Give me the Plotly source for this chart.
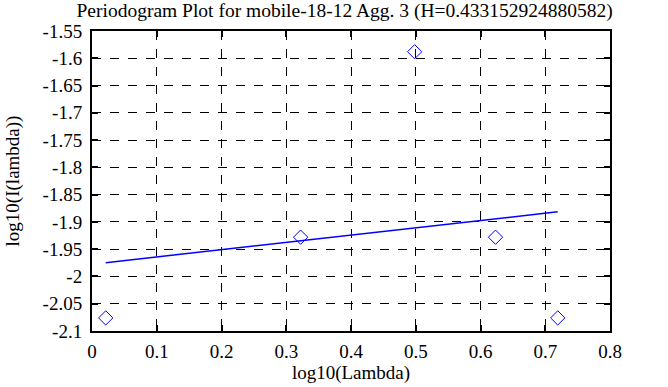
import numpy as np
import plotly.graph_objects as go

log_lambda = [0.0212, 0.3222, 0.4983, 0.6232, 0.7193]
log_I = [-2.076, -1.928, -1.588, -1.928, -2.076]
x_ticks = [0, 0.1, 0.2, 0.3, 0.4, 0.5, 0.6, 0.7, 0.8]
x_tick_text = ["0", "0.1", "0.2", "0.3", "0.4", "0.5", "0.6", "0.7", "0.8"]
y_ticks = [-1.55, -1.6, -1.65, -1.7, -1.75, -1.8, -1.85, -1.9, -1.95, -2.0, -2.05, -2.1]
y_tick_text = ["-1.55", "-1.6", "-1.65", "-1.7", "-1.75", "-1.8", "-1.85", "-1.9", "-1.95", "-2", "-2.05", "-2.1"]
title = "Periodogram Plot for mobile-18-12 Agg. 3 (H=0.433152924880582)"

slope, intercept = np.polyfit(log_lambda, log_I, 1)
fit_x = [log_lambda[0], log_lambda[-1]]
fit_y = [slope * v + intercept for v in fit_x]

fig = go.Figure()
fig.add_trace(go.Scatter(x=log_lambda, y=log_I, mode="markers",
                         marker=dict(symbol="diamond-open", size=11, color="#0000ff", line=dict(width=1)),
                         showlegend=False, cliponaxis=False))
fig.add_trace(go.Scatter(x=fit_x, y=fit_y, mode="lines",
                         line=dict(color="#0000ff", width=1.5), showlegend=False))

font = dict(family="Liberation Serif, Times New Roman, serif", size=19, color="black")
axis_common = dict(showline=True, linecolor="black", linewidth=2, mirror="ticks",
                   ticks="inside", ticklen=6, tickwidth=2, tickcolor="black",
                   showgrid=True, gridcolor="black", gridwidth=1, griddash="dash",
                   zeroline=False, tickfont=font, automargin=False)
fig.update_layout(
    width=668, height=387,
    margin=dict(l=92, r=58, t=31, b=56),
    paper_bgcolor="white", plot_bgcolor="white",
    font=font,
    title=dict(text=title, x=0.516, xanchor="center", y=0.974, yanchor="middle",
               font=dict(family=font["family"], size=19.5, color="black")),
    xaxis=dict(range=[0, 0.8], tickvals=x_ticks, ticktext=x_tick_text, ticklabelstandoff=2,
               title=dict(text="log10(Lambda)", standoff=5, font=font), **axis_common),
    yaxis=dict(range=[-2.1, -1.55], tickvals=y_ticks, ticktext=y_tick_text, ticklabelstandoff=4,
               title=dict(text="log10(I(lambda))", standoff=18, font=font), **axis_common),
)
fig.write_html("out.html", config={"displayModeBar": False},
               post_script="document.body.style.margin='0';")
